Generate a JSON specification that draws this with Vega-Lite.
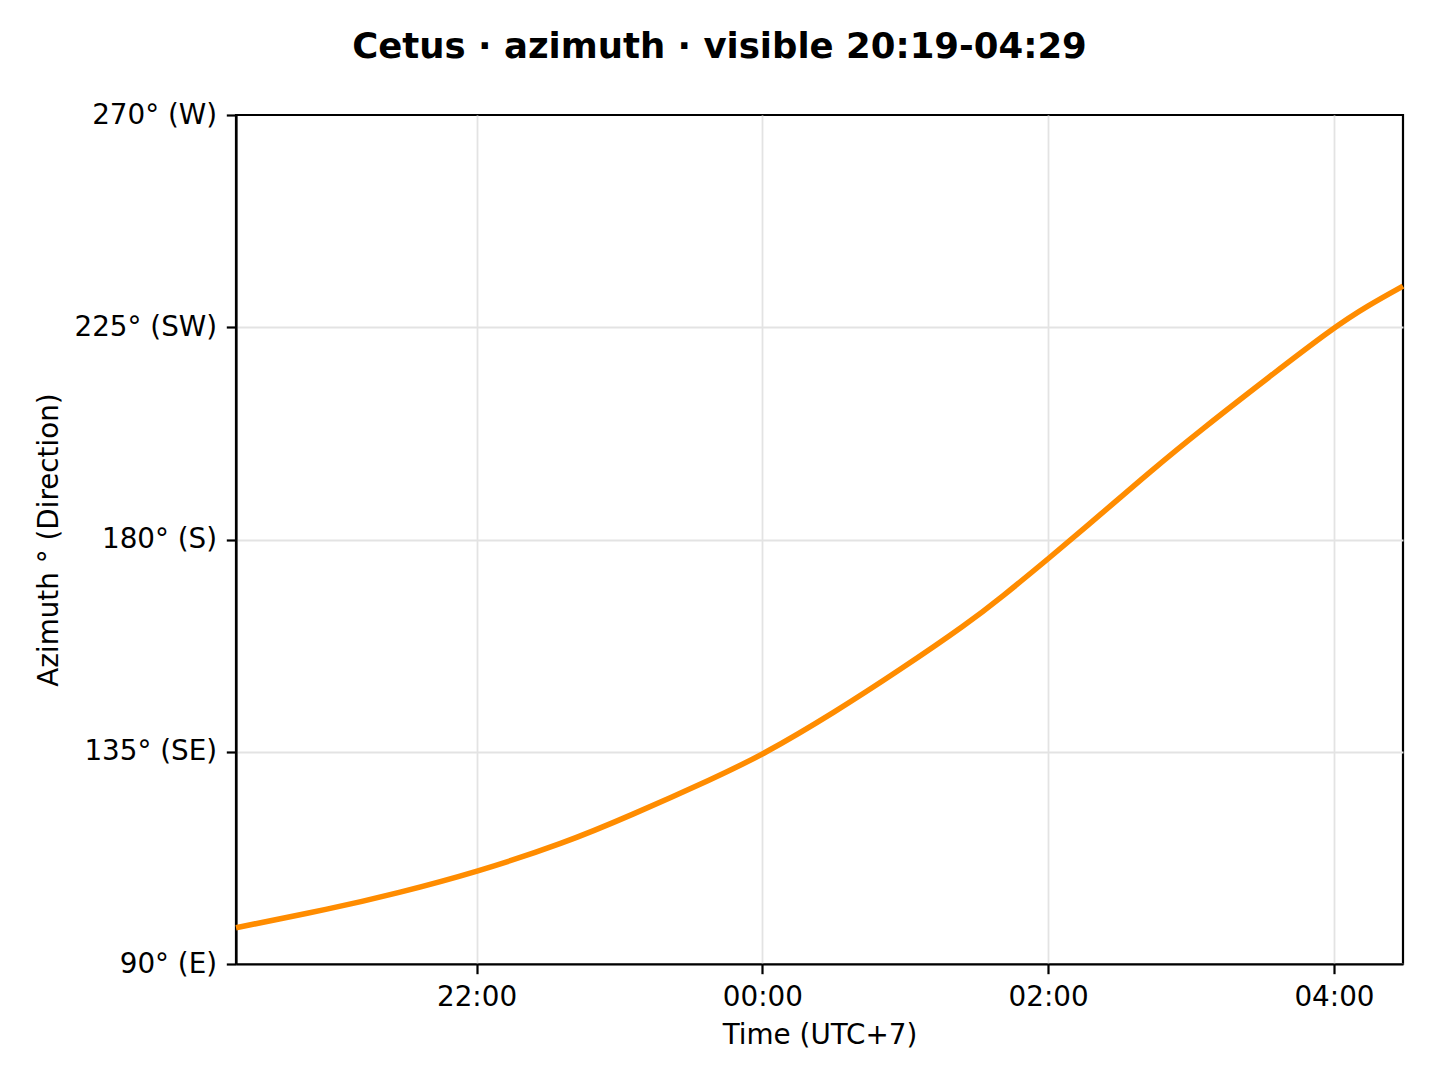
{
  "$schema": "https://vega.github.io/schema/vega-lite/v6.json",
  "width": 1167,
  "height": 849,
  "autosize": {"type": "none"},
  "padding": {"left": 236, "top": 115, "right": 37, "bottom": 116},
  "background": "white",
  "title": {
    "text": "Cetus · azimuth · visible 20:19-04:29",
    "font": "DejaVu Sans",
    "fontSize": 35.5,
    "fontWeight": "bold",
    "color": "black",
    "anchor": "middle",
    "dx": -100,
    "offset": 36
  },
  "config": {
    "view": {"stroke": "black", "strokeWidth": 2.2},
    "axis": {
      "labelFont": "DejaVu Sans",
      "titleFont": "DejaVu Sans",
      "labelFontSize": 27.8,
      "titleFontSize": 27.8,
      "titleFontWeight": "normal",
      "labelColor": "black",
      "titleColor": "black",
      "tickColor": "black",
      "tickSize": 9.7,
      "tickWidth": 2.2,
      "labelPadding": 9.7,
      "domain": true,
      "domainColor": "black",
      "domainWidth": 2.2,
      "gridColor": "#e3e3e3",
      "gridWidth": 1.8
    }
  },
  "data": {
    "values": [
      {"hour": 20.3167, "azimuth": 97.7},
      {"hour": 20.977, "azimuth": 101.7},
      {"hour": 21.444, "azimuth": 105.0},
      {"hour": 22.0, "azimuth": 109.5},
      {"hour": 22.612, "azimuth": 115.6},
      {"hour": 23.079, "azimuth": 121.5},
      {"hour": 23.662, "azimuth": 129.4},
      {"hour": 24.006, "azimuth": 134.4},
      {"hour": 24.503, "azimuth": 143.3},
      {"hour": 24.97, "azimuth": 152.5},
      {"hour": 25.437, "azimuth": 162.2},
      {"hour": 25.671, "azimuth": 167.7},
      {"hour": 26.005, "azimuth": 176.0},
      {"hour": 26.371, "azimuth": 185.4},
      {"hour": 26.721, "azimuth": 194.6},
      {"hour": 27.072, "azimuth": 203.3},
      {"hour": 27.539, "azimuth": 214.3},
      {"hour": 28.001, "azimuth": 225.0},
      {"hour": 28.239, "azimuth": 229.6},
      {"hour": 28.4833, "azimuth": 233.7}
    ]
  },
  "mark": {"type": "line", "color": "#ff8c00", "strokeWidth": 5.5, "interpolate": "basis"},
  "encoding": {
    "x": {
      "field": "hour",
      "type": "quantitative",
      "scale": {"domain": [20.3167, 28.4833], "nice": false, "zero": false},
      "axis": {
        "title": "Time (UTC+7)",
        "values": [22, 24, 26, 28],
        "labelExpr": "(datum.value % 24 < 10 ? '0' : '') + (datum.value % 24) + ':00'",
        "titlePadding": 10
      }
    },
    "y": {
      "field": "azimuth",
      "type": "quantitative",
      "scale": {"domain": [90, 270], "nice": false, "zero": false},
      "axis": {
        "title": "Azimuth ° (Direction)",
        "values": [90, 135, 180, 225, 270],
        "labelExpr": "datum.value == 90 ? '90° (E)' : datum.value == 135 ? '135° (SE)' : datum.value == 180 ? '180° (S)' : datum.value == 225 ? '225° (SW)' : '270° (W)'",
        "gridOpacity": {"condition": {"test": "datum.value == 270", "value": 0}, "value": 1},
        "titlePadding": 10
      }
    }
  }
}
